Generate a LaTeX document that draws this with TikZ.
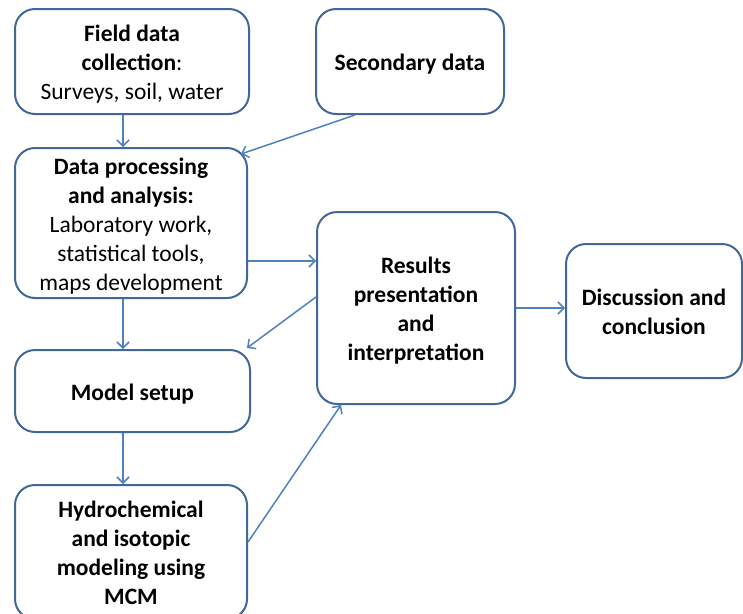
\documentclass[tikz,border=0pt]{standalone}
\usepackage{fontspec}
\setmainfont{Carlito}
\usetikzlibrary{arrows.meta,calc}
\definecolor{boxc}{HTML}{41689A}
\definecolor{arrc}{HTML}{4F81BD}
\newcommand\boxtext[1]{\raisebox{-3.5pt}[\height][\depth]{\begin{tabular}{@{}c@{}}#1\end{tabular}}}
\tikzset{
  box/.style={draw=boxc, line width=2pt, rounded corners=20pt, fill=white,
    font=\fontsize{23.5}{29}\selectfont, inner sep=0pt},
  arr/.style={draw=arrc, line width=1.5pt, -{Straight Barb[length=6pt,width=12pt,line width=1.5pt]}}
}
\begin{document}
\begin{tikzpicture}[x=1pt,y=-1pt]
\useasboundingbox (0,0) rectangle (743,613);
\begin{scope}
\clip (0,0) rectangle (743,613);
\node[box, minimum width=234pt, minimum height=105pt] (field) at (132,61.5)
  {\boxtext{\textbf{Field data}\\\textbf{collection}:\\Surveys, soil, water}};
\node[box, minimum width=188pt, minimum height=105pt] (sec) at (410,61.5)
  {\boxtext{\textbf{Secondary data}}};
\node[box, minimum width=232pt, minimum height=150pt] (dp) at (131,223)
  {\boxtext{\textbf{Data processing}\\\textbf{and analysis:}\\Laboratory work,\\statistical tools,\\maps development}};
\node[box, minimum width=198pt, minimum height=192pt] (res) at (416,308)
  {\boxtext{\textbf{Results}\\\textbf{presentation}\\\textbf{and}\\\textbf{interpretation}}};
\node[box, minimum width=176pt, minimum height=134pt] (disc) at (654,311)
  {\boxtext{\textbf{Discussion and}\\\textbf{conclusion}}};
\node[box, minimum width=235pt, minimum height=82pt] (model) at (132.5,391)
  {\boxtext{\textbf{Model setup}}};
\node[box, minimum width=232pt, minimum height=134pt] (hyd) at (131,552)
  {\boxtext{\textbf{Hydrochemical}\\\textbf{and isotopic}\\\textbf{modeling using}\\\textbf{MCM}}};
\end{scope}
\draw[arr] ($(field.south)+(-9,0)$) -- ($(dp.north)+(-8,0)$);
\draw[arr] ($(sec.south)+(-55,0)$) -- ($(dp.north east)+(-7,7)$);
\draw[arr] ($(dp.east)+(0,38)$) -- ($(res.west)+(0,-47)$);
\draw[arr] ($(res.west)+(0,-11)$) -- ($(model.north east)+(-4,-1)$);
\draw[arr] ($(dp.south)+(-8,0)$) -- ($(model.north)+(-9.5,0)$);
\draw[arr] ($(model.south)+(-9.5,0)$) -- ($(hyd.north)+(-8,0)$);
\draw[arr] ($(hyd.east)+(0,-10)$) -- ($(res.south west)+(25,0)$);
\draw[arr] (res.east) -- (disc.west |- res.east);
\end{tikzpicture}
\end{document}
